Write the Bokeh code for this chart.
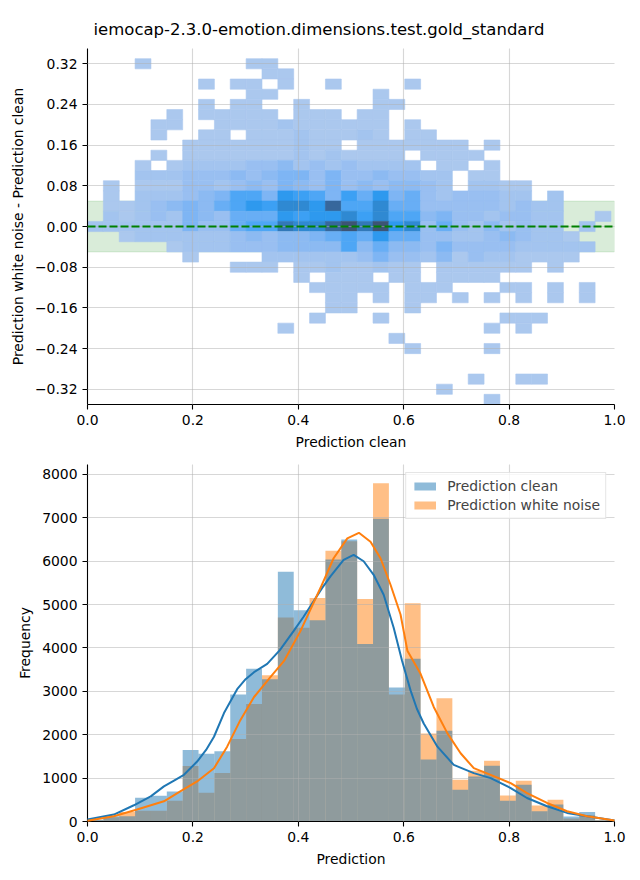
import numpy as np
from bokeh.plotting import figure
from bokeh.models import (ColumnDataSource, LinearColorMapper, FixedTicker,
                          CustomJSTickFormatter, Legend, LegendItem, Span, BoxAnnotation)
from bokeh.layouts import column
from bokeh.embed import file_html
from bokeh.resources import INLINE
from bokeh.transform import transform

TITLE = "iemocap-2.3.0-emotion.dimensions.test.gold_standard"

# ---------------- data ----------------
bin_start, bin_stop, n_bins = 0.0, 0.9933, 33

clean_counts = [40, 120, 120, 550, 595, 690, 1650, 1560, 1620, 2930, 3520, 3280,
                5760, 4870, 4640, 6040, 6500, 4090, 6980, 3090, 3750, 1430, 2090,
                730, 1040, 1285, 480, 845, 235, 390, 115, 220, 30]
noise_counts = [30, 100, 220, 250, 250, 480, 1280, 660, 1120, 1900, 2710, 3370,
                4700, 4465, 5150, 6240, 6460, 5130, 7800, 2930, 5030, 2030, 2840,
                960, 1170, 1400, 600, 940, 370, 500, 70, 145, 30]

kde_clean_x = [0.0, 0.05, 0.088, 0.12, 0.145, 0.165, 0.183, 0.208, 0.225, 0.240, 0.259,
               0.284, 0.300, 0.316, 0.341, 0.365, 0.391, 0.410, 0.429, 0.445, 0.461,
               0.486, 0.505, 0.524, 0.543, 0.562, 0.581, 0.597, 0.613, 0.625, 0.638,
               0.664, 0.695, 0.733, 0.765, 0.803, 0.834, 0.872, 0.910, 0.948, 1.0]
kde_clean_y = [46, 160, 374, 580, 809, 950, 1076, 1382, 1650, 1954, 2500,
               3050, 3280, 3443, 3634, 3950, 4389, 4720, 5076, 5380, 5649,
               6030, 6145, 6000, 5687, 5229, 4466, 3702, 3023, 2600, 2260,
               1725, 1305, 1115, 1000, 771, 542, 351, 198, 122, 23]
kde_noise_x = [0.0, 0.05, 0.094, 0.145, 0.176, 0.208, 0.240, 0.265, 0.290, 0.316,
               0.347, 0.373, 0.404, 0.442, 0.467, 0.493, 0.515, 0.537, 0.556, 0.575,
               0.594, 0.607, 0.632, 0.657, 0.683, 0.708, 0.733, 0.765, 0.803, 0.834,
               0.872, 0.910, 0.948, 1.0]
kde_noise_y = [15, 122, 275, 466, 695, 924, 1229, 1725, 2336, 2870,
               3328, 3702, 4389, 5382, 6069, 6527, 6656, 6450, 6069, 5458,
               4771, 3939, 3405, 2641, 2031, 1573, 1229, 1076, 885, 656,
               427, 237, 122, 23]

# 2D histogram: difference bins of 0.02 centred on multiples of 0.02,
# rows from +0.32 (top) down to -0.34; columns = the 33 prediction bins.
# '.' = empty, 1..9,a..d = density level (1 lowest, d highest)
diff_bin = 0.02
diff_top_index = 16
heat_rows = [
    "...1......11.....................",  # 0.32
    "...........11....................",  # 0.30
    ".......1.11.1..1....1............",  # 0.28
    "..........11......1..............",  # 0.26
    ".......1.11..1....11.............",  # 0.24
    ".....1.11111.111.11..............",  # 0.22
    "....11..11112111111.1............",  # 0.20
    "....1..11.111211121.11...........",  # 0.18
    "......1111111211.1111111.1.......",  # 0.16
    "....1.11111112121111.1111........",  # 0.14
    "...1.1222233423232222.11.1.......",  # 0.12
    "...22233343455353343322.11.......",  # 0.10
    ".1.11133234354353434432.2211.....",  # 0.08
    ".1.2223457759875869563233322.2...",  # 0.06
    ".11234546798aa9c77a66333332322...",  # 0.04
    ".212325436669899a8a77453323322..1",  # 0.02
    "222222533677baacdbd9a363242322.2.",  # 0.00
    "..12222223434456769663322343221..",  # -0.02
    ".....122233344447464435333322222.",  # -0.04
    "......1....22222235332413221111..",  # -0.06
    ".........111.11211211.111111.1...",  # -0.08
    ".............1.111.11.1111.......",  # -0.10
    "..............11111.111...11.1.1.",  # -0.12
    "...............11.1.11.1.1.1.1.1.",  # -0.14
    "...............11...1............",  # -0.16
    "..............1...1.......111....",  # -0.18
    "............1............1.1.....",  # -0.20
    "...................1.............",  # -0.22
    "....................1....1.......",  # -0.24
    ".................................",  # -0.26
    ".................................",  # -0.28
    "........................1..11....",  # -0.30
    "......................1..........",  # -0.32
    ".........................1.......",  # -0.34
]
heat_rows = [r[:n_bins].ljust(n_bins, ".") for r in heat_rows]

heat_palette = ["#abc8ee", "#a3c4ef", "#99bff1", "#8cbaf2", "#7eb5f4", "#68aef5",
                "#4ea6f5", "#3ca0f4", "#2e99ee", "#2f89d2", "#3278b8", "#37679c",
                "#3c5475"]

tolerance = 0.05

# ---------------- derived sources ----------------
edges = np.linspace(bin_start, bin_stop, n_bins + 1)

hl, hr, hb, ht, hv = [], [], [], [], []
for r, row in enumerate(heat_rows):
    k = diff_top_index - r
    for i, ch in enumerate(row):
        if ch == ".":
            continue
        hl.append(edges[i]); hr.append(edges[i + 1])
        hb.append((k - 0.5) * diff_bin); ht.append((k + 0.5) * diff_bin)
        hv.append(int(ch, 16))
heat_src = ColumnDataSource(dict(left=hl, right=hr, bottom=hb, top=ht, level=hv))

hist_clean = ColumnDataSource(dict(left=edges[:-1], right=edges[1:], top=clean_counts,
                                   bottom=[0] * n_bins))
hist_noise = ColumnDataSource(dict(left=edges[:-1], right=edges[1:], top=noise_counts,
                                   bottom=[0] * n_bins))

FONT = "DejaVu Sans"
FS = "13.9px"


def style(p):
    p.outline_line_color = None
    p.background_fill_color = "white"
    p.border_fill_color = "white"
    for ax in (p.xaxis[0], p.yaxis[0]):
        ax.axis_line_color = "black"
        ax.axis_line_width = 1.1
        ax.major_tick_line_color = "black"
        ax.major_tick_line_width = 1.1
        ax.major_tick_out = 5
        ax.major_tick_in = 0
        ax.minor_tick_line_color = None
        ax.major_label_text_font = FONT
        ax.major_label_text_font_size = FS
        ax.major_label_text_color = "black"
        ax.axis_label_text_font = FONT
        ax.axis_label_text_font_size = FS
        ax.axis_label_text_font_style = "normal"
        ax.axis_label_text_color = "black"
        ax.major_label_standoff = 5
        ax.axis_label_standoff = 6
    for g in (p.xgrid[0], p.ygrid[0]):
        g.grid_line_color = "#b0b0b0"
        g.grid_line_alpha = 0.5
        g.grid_line_width = 1.1
        g.level = "guide"


x_fmt = CustomJSTickFormatter(code="return tick.toFixed(1);")

# ---------------- top: 2D histogram ----------------
p1 = figure(width=632, height=452, x_range=(0, 1), y_range=(-0.35, 0.35),
            output_backend="svg", toolbar_location=None,
            min_border_left=87, min_border_right=18, min_border_top=48, min_border_bottom=47)
p1.title.text = TITLE
p1.title.text_font = FONT
p1.title.text_font_size = "16.5px"
p1.title.text_font_style = "normal"
p1.title.text_color = "black"
p1.title.align = "left"
p1.title.offset = 6
p1.title.standoff = 20

p1.add_layout(BoxAnnotation(bottom=-tolerance, top=tolerance, fill_color="green",
                            fill_alpha=0.15, line_color="green", line_alpha=0.12,
                            line_width=1, level="underlay"))
mapper = LinearColorMapper(palette=heat_palette, low=0.5, high=len(heat_palette) + 0.5)
p1.quad(left="left", right="right", bottom="bottom", top="top", source=heat_src,
        fill_color=transform("level", mapper), line_color=transform("level", mapper),
        line_width=0.6)
p1.add_layout(Span(location=0, dimension="width", line_color="green",
                   line_width=2, line_dash="8 3"))

p1.xaxis.axis_label = "Prediction clean"
p1.yaxis.axis_label = "Prediction white noise - Prediction clean"
p1.xaxis.ticker = FixedTicker(ticks=[0, 0.2, 0.4, 0.6, 0.8, 1.0])
p1.xaxis.formatter = x_fmt
p1.yaxis.ticker = FixedTicker(ticks=[-0.32, -0.24, -0.16, -0.08, 0.0, 0.08, 0.16, 0.24, 0.32])
p1.yaxis.formatter = CustomJSTickFormatter(
    code="var s = Math.abs(tick).toFixed(2); return (tick < -1e-9 ? '\u2212' : '') + s;")
style(p1)

# ---------------- bottom: histograms + KDE ----------------
p2 = figure(width=632, height=420, x_range=(0, 1), y_range=(0, 8230),
            output_backend="svg", toolbar_location=None,
            min_border_left=87, min_border_right=18, min_border_top=12, min_border_bottom=51)
r_noise = p2.quad(left="left", right="right", bottom="bottom", top="top", source=hist_noise,
                  fill_color="#ff7f0e", fill_alpha=0.5, line_color=None)
r_clean = p2.quad(left="left", right="right", bottom="bottom", top="top", source=hist_clean,
                  fill_color="#1f77b4", fill_alpha=0.5, line_color=None)
l1 = p2.line(kde_clean_x, kde_clean_y, line_color="#1f77b4", line_width=2)
l2 = p2.line(kde_noise_x, kde_noise_y, line_color="#ff7f0e", line_width=2)
l1.level = "annotation"
l2.level = "annotation"

p2.xaxis.axis_label = "Prediction"
p2.yaxis.axis_label = "Frequency"
p2.xaxis.ticker = FixedTicker(ticks=[0, 0.2, 0.4, 0.6, 0.8, 1.0])
p2.xaxis.formatter = x_fmt
p2.yaxis.ticker = FixedTicker(ticks=list(range(0, 8001, 1000)))
style(p2)

legend = Legend(items=[LegendItem(label="Prediction clean", renderers=[r_clean]),
                       LegendItem(label="Prediction white noise", renderers=[r_noise])],
                location="top_right")
legend.label_text_font = FONT
legend.label_text_font_size = FS
legend.glyph_width = 27
legend.glyph_height = 10
legend.label_height = 14
legend.label_standoff = 9
legend.spacing = 3
legend.padding = 5
legend.margin = 8
legend.border_line_color = "#cccccc"
legend.border_line_width = 1
legend.background_fill_alpha = 0.8
p2.add_layout(legend)

layout = column(p1, p2)
open("out.html", "w").write(file_html(layout, INLINE))
